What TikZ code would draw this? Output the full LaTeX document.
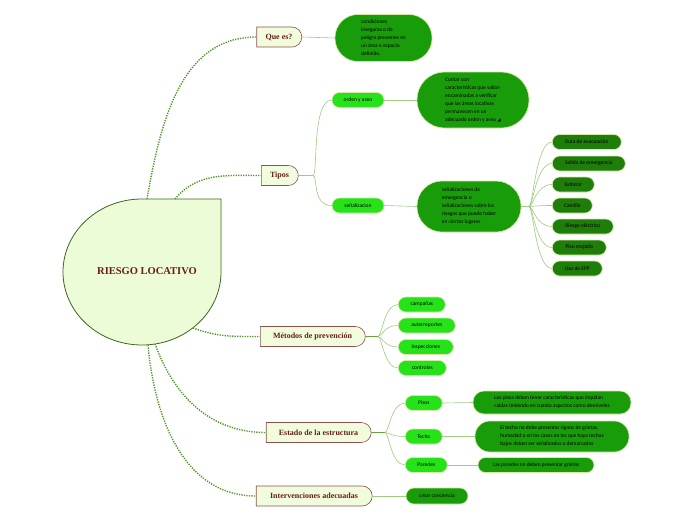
\documentclass[tikz,border=0pt]{standalone}
\usepackage{fontspec}
\usepackage{tikz}
\usetikzlibrary{shapes.misc}
\setmainfont{Liberation Serif}
\newfontfamily\mapfont{Carlito}
\newfontfamily\symfont{DejaVu Sans}
\definecolor{rootfill}{rgb}{0.92,0.99,0.84}
\definecolor{rootline}{rgb}{0.24,0.40,0.12}
\definecolor{mainfill}{rgb}{0.94,0.99,0.86}
\definecolor{mainline}{rgb}{0.55,0.32,0.32}
\definecolor{maintext}{rgb}{0.42,0.11,0.11}
\definecolor{dotgreen}{rgb}{0.33,0.60,0.16}
\definecolor{linegreen}{rgb}{0.62,0.80,0.50}
\definecolor{brightgreen}{rgb}{0.15,0.89,0.10}
\definecolor{darkgreen}{rgb}{0.10,0.61,0.04}
\definecolor{deepgreen}{rgb}{0.12,0.49,0.04}
\definecolor{pillline}{rgb}{0.84,0.91,0.66}
\tikzstyle{mainnode}=[draw=mainline,fill=mainfill,line width=0.6pt,rounded rectangle,rounded rectangle left arc=none,text=maintext,font=\fontsize{8}{9}\selectfont\bfseries,inner xsep=3pt,minimum height=20pt]
\tikzstyle{pill}=[draw=pillline,fill=brightgreen,line width=0.6pt,rectangle,rounded corners=7.5pt,minimum height=15pt,inner sep=0pt,text=black,font=\mapfont\fontsize{5.5}{6}\selectfont]
\tikzstyle{signpill}=[pill,fill=deepgreen]
\tikzstyle{textpill}=[pill,fill=darkgreen,align=left,font=\mapfont\fontsize{5.4}{8}\selectfont]
\tikzstyle{dotline}=[draw=dotgreen,line width=1.4pt,dash pattern=on 1.3pt off 1.2pt,line cap=butt]
\tikzstyle{thinline}=[draw=linegreen,line width=0.6pt]

\begin{document}
\begin{tikzpicture}[line cap=round,line join=round,x=1pt,y=-1pt]
\useasboundingbox (0,0) rectangle (696,520);
\fill[white] (0,0) rectangle (696,520);
\draw[draw=rootline,fill=rootfill,line width=0.8pt] (142,199) -- (221,199) -- (221,272) arc[start angle=0,end angle=270,x radius=79,y radius=73] -- cycle;
\node[text=maintext,font=\fontsize{10.5}{12}\selectfont\bfseries] (root) at (147,271) {RIESGO LOCATIVO};
\coordinate (rq) at (147,199);
\coordinate (rt) at (175,199);
\coordinate (rm) at (193,328);
\coordinate (re) at (155,344);
\coordinate (ri) at (148,345);

\node[mainnode,minimum width=51pt] (quees) at (279,37) {Que es?};
\node[mainnode,minimum width=43pt] (tipos) at (279.5,175.5) {Tipos};
\node[mainnode,minimum width=111pt] (metodos) at (312.5,336.5) {Métodos de prevención};
\node[mainnode,minimum width=111pt] (estado) at (318.5,432.5) {Estado de la estructura};
\node[mainnode,minimum width=122pt] (interv) at (314,496) {Intervenciones adecuadas};

\draw[dotline] (rq) to[out=80,in=180] (quees.west);
\draw[dotline] (rt) to[out=50,in=180] (tipos.west);
\draw[dotline] (rm) to[out=-20,in=180] (metodos.west);
\draw[dotline] (re) to[out=-70,in=180] (estado.west);
\draw[dotline] (ri) to[out=-85,in=180] (interv.west);

\node[textpill,minimum width=97pt,minimum height=47pt,rounded corners=23pt] (defin) at (383.5,38) {condiciones\\inseguras o de\\peligro presentes en\\un área o espacio\\definido.};
\draw[thinline] (quees.east) -- (defin.west);

\node[pill,minimum width=52pt] (orden) at (358,100) {orden y aseo};
\node[pill,minimum width=52pt] (senal) at (358,205.5) {señalizacion};
\coordinate (tj) at (313,175.5);
\draw[thinline] (tipos.east) -- (tj);
\draw[thinline] (tj) .. controls +(5,0) and +(-20,0) .. (orden.west);
\draw[thinline] (tj) .. controls +(5,0) and +(-20,0) .. (senal.west);

\node[textpill,minimum width=112pt,minimum height=56pt,rounded corners=27.5pt] (ordentxt) at (473,100) {Contar con\\características que vallan\\encaminadas a verificar\\que las áreas locativas\\permanecen en un\\adecuado orden y aseo {\symfont\fontsize{4.5}{5}\selectfont ◢}};
\draw[thinline] (orden.east) -- (ordentxt.west);
\node[textpill,minimum width=104pt,minimum height=51pt,rounded corners=25pt] (senaltxt) at (469,206.5) {señalizaciones de\\emergencia o\\señalizaciones sobre los\\riesgos que puede haber\\en ciertos lugares};
\draw[thinline] (senal.east) -- (senaltxt.west);

\node[signpill,anchor=west,minimum width=69pt] (ruta) at (552,142) {Ruta de evacuación};
\node[signpill,anchor=west,minimum width=73pt] (salida) at (552,163.5) {Salida de emergencia};
\node[signpill,anchor=west,minimum width=42pt] (extintor) at (552,184.5) {Extintor};
\node[signpill,anchor=west,minimum width=40pt] (camilla) at (552,205.5) {Camilla};
\node[signpill,anchor=west,minimum width=61pt] (riesgo) at (552,226.5) {Riesgo eléctrico};
\node[signpill,anchor=west,minimum width=54pt] (piso) at (552,247.5) {Piso mojado};
\node[signpill,anchor=west,minimum width=50pt] (epp) at (552,268.5) {Uso de EPP};
\coordinate (sj) at (529,206.5);
\draw[thinline] (senaltxt.east) -- (sj);
\foreach \s in {ruta,salida,extintor,camilla,riesgo,piso,epp}
  \draw[thinline] (sj) .. controls +(4,0) and +(-16,0) .. (\s.west);

\node[pill,anchor=west,minimum width=47pt] (campanas) at (398,304.5) {campañas};
\node[pill,anchor=west,minimum width=57pt] (autorrep) at (398,325.5) {autorreportes};
\node[pill,anchor=west,minimum width=55pt] (inspec) at (398,347) {inspecciones};
\node[pill,anchor=west,minimum width=48pt] (controles) at (398,368) {controles};
\coordinate (mj) at (378,336.5);
\draw[thinline,draw=dotgreen!90] (metodos.east) -- (mj);
\foreach \s in {campanas,autorrep,inspec,controles}
  \draw[thinline] (mj) .. controls +(4,0) and +(-14,0) .. (\s.west);

\node[pill,anchor=west,minimum width=37pt] (pisos) at (405,403) {Pisos};
\node[pill,anchor=west,minimum width=37pt] (techo) at (405,436.5) {Techo};
\node[pill,anchor=west,minimum width=42pt] (paredes) at (405,465) {Paredes};
\coordinate (ej) at (385,432.5);
\draw[thinline,draw=dotgreen!90] (estado.east) -- (ej);
\foreach \s in {pisos,techo,paredes}
  \draw[thinline] (ej) .. controls +(4,0) and +(-14,0) .. (\s.west);

\node[textpill,minimum width=158pt,minimum height=23pt,rounded corners=11pt] (pisostxt) at (552,402.5) {Los pisos deben tener características que impidan\\caídas teniendo en cuenta aspectos como desniveles};
\node[textpill,minimum width=154pt,minimum height=31pt,rounded corners=15pt] (techotxt) at (552,436.5) {El techo no debe presentar signos de grietas,\\humedad o en los casos en los que haya techos\\bajos deben ser señalizados o demarcados};
\node[textpill,minimum width=116pt,rounded corners=7.5pt] (paredestxt) at (536,465) {Las paredes no deben presentar grietas};
\draw[thinline] (pisos.east) -- (pisostxt.west);
\draw[thinline] (techo.east) -- (techotxt.west);
\draw[thinline] (paredes.east) -- (paredestxt.west);

\node[textpill,minimum width=62pt,minimum height=16pt,rounded corners=8pt] (crear) at (437,496) {crear conciencia};
\draw[thinline] (interv.east) -- (crear.west);
\end{tikzpicture}
\end{document}
